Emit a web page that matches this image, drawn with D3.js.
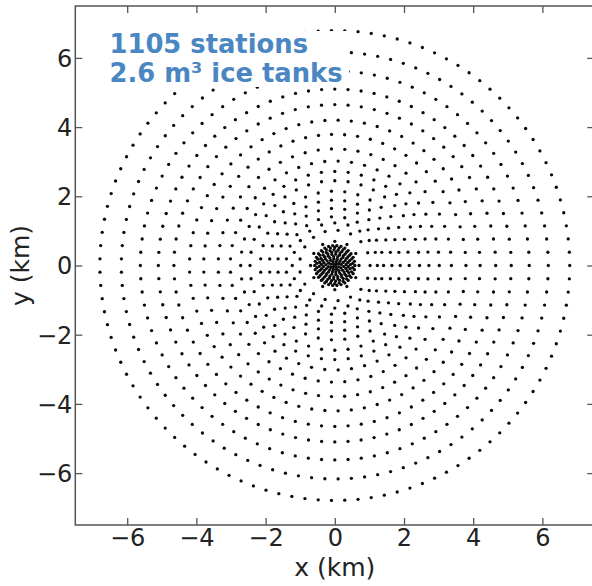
<!DOCTYPE html>
<html>
<head>
<meta charset="utf-8">
<script src="https://cdn.jsdelivr.net/npm/d3@7"></script>
<style>
  html, body { margin: 0; padding: 0; background: #fff; }
  svg { display: block; font-family: "DejaVu Sans", sans-serif; }
</style>
</head>
<body>
<svg id="chart" width="592" height="586"></svg>
<script>
// Axis ticks (km)
const xTicks = [-6, -4, -2, 0, 2, 4, 6];
const yTicks = [-6, -4, -2, 0, 2, 4, 6];

// Outer graded rings: radius (km) and number of stations on each ring
const ringRadiusKm = [6.79, 6.17, 5.62, 5.10, 4.65, 4.20, 3.79, 3.37, 3.02, 2.72, 2.45, 2.15, 1.89, 1.65, 1.41, 1.23, 1.02, 0.70];
const ringStations = [111, 101, 92, 84, 76, 69, 63, 55, 49, 44, 40, 35, 31, 27, 23, 20, 17, 12];

// Dense infill at the array centre: radius (km), stations, rotation (deg)
const coreRadiusKm = [0.58, 0.52, 0.45, 0.39, 0.33, 0.26, 0.19, 0.12, 0.05];
const coreStations = [30, 26, 24, 20, 18, 14, 12, 8, 4];
const coreRotationDeg = [0, 7, 3, 13, 5, 20, 9, 25, 40];

const annotationLines = ["1105 stations", "2.6 m\u00B3 ice tanks"];

const svg = d3.select("#chart");
const frame = { left: 75.3, right: 594.3, top: 6, bottom: 525 };

const x = d3.scaleLinear().domain([-7.5, 7.5]).range([frame.left, frame.right]);
const y = d3.scaleLinear().domain([-7.5, 7.5]).range([frame.bottom, frame.top]);

// Station positions from ring definitions
const stations = [];
ringRadiusKm.forEach((r, i) => {
  const n = ringStations[i];
  for (let k = 0; k < n; k++) {
    const a = 2 * Math.PI * k / n;
    stations.push({ x: r * Math.cos(a), y: r * Math.sin(a) });
  }
});
coreRadiusKm.forEach((r, i) => {
  const n = coreStations[i];
  const off = coreRotationDeg[i] * Math.PI / 180;
  for (let k = 0; k < n; k++) {
    const a = off + 2 * Math.PI * k / n;
    stations.push({ x: r * Math.cos(a), y: r * Math.sin(a) });
  }
});

const plot = svg.append("g");
plot.selectAll("circle.st")
  .data(stations)
  .join("circle")
  .attr("class", "st")
  .attr("cx", d => x(d.x))
  .attr("cy", d => y(d.y))
  .attr("r", 1.65)
  .attr("fill", "#0a0a0a");

// Annotation with a white box behind it
svg.append("rect")
  .attr("x", 104).attr("y", 31)
  .attr("width", 245).attr("height", 56)
  .attr("fill", "#fff");
svg.append("g").selectAll("text")
  .data(annotationLines)
  .join("text")
  .attr("x", 109.5)
  .attr("y", (d, i) => 53 + i * 28.5)
  .attr("font-size", 25.8)
  .attr("font-weight", "bold")
  .attr("fill", "#4a86c1")
  .text(d => d);

// Axes: frame with inward ticks on all four sides
const fmt = v => (v < 0 ? "\u2212" + Math.abs(v) : String(v));
const spine = "#555";
const tickLen = 7;

function styleAxis(g) {
  g.select(".domain").remove();
  g.selectAll(".tick line").attr("stroke", spine).attr("stroke-width", 1.3);
  g.selectAll(".tick text").attr("fill", "#222").attr("font-size", 24)
    .attr("font-family", "DejaVu Sans, sans-serif");
}

const gx = svg.append("g").attr("transform", `translate(0,${frame.bottom})`)
  .call(d3.axisBottom(x).tickValues(xTicks).tickFormat(fmt).tickSize(-tickLen))
  .call(styleAxis);
gx.selectAll(".tick text").attr("y", 21).attr("dy", "0");

svg.append("g").attr("transform", `translate(0,${frame.top})`)
  .call(d3.axisTop(x).tickValues(xTicks).tickFormat("").tickSize(-tickLen))
  .call(styleAxis);

const gy = svg.append("g").attr("transform", `translate(${frame.left},0)`)
  .call(d3.axisLeft(y).tickValues(yTicks).tickFormat(fmt).tickSize(-tickLen))
  .call(styleAxis);
gy.selectAll(".tick text").attr("x", -3).attr("dy", "0.35em");

svg.append("g").attr("transform", `translate(${frame.right},0)`)
  .call(d3.axisRight(y).tickValues(yTicks).tickFormat("").tickSize(-tickLen))
  .call(styleAxis);

svg.append("rect")
  .attr("x", frame.left).attr("y", frame.top)
  .attr("width", frame.right - frame.left).attr("height", frame.bottom - frame.top)
  .attr("fill", "none").attr("stroke", spine).attr("stroke-width", 1.5);

// Axis titles
svg.append("text")
  .attr("x", (frame.left + frame.right) / 2).attr("y", 576)
  .attr("text-anchor", "middle")
  .attr("font-size", 25).attr("fill", "#222")
  .text("x (km)");
svg.append("text")
  .attr("transform", `translate(29,${(frame.top + frame.bottom) / 2}) rotate(-90)`)
  .attr("text-anchor", "middle")
  .attr("font-size", 25).attr("fill", "#222")
  .text("y (km)");
</script>
</body>
</html>
